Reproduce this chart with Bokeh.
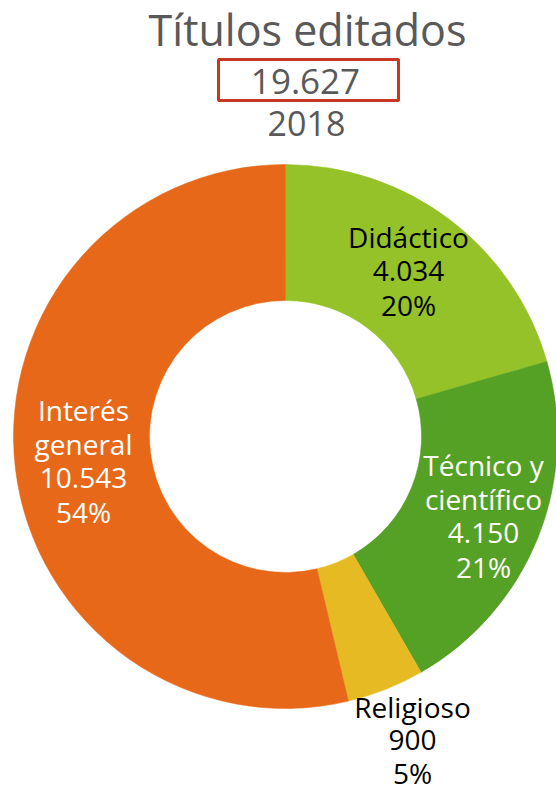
import math
from bokeh.plotting import figure
from bokeh.models import Range1d, BoxAnnotation, ColumnDataSource
from bokeh.core.properties import value
from bokeh.embed import file_html
from bokeh.resources import INLINE

# ---- data ----
title_text = "Títulos editados"
total_value = 19627
year_text = "2018"
categories = ["Didáctico", "Técnico y científico", "Religioso", "Interés general"]
label_names = [["Didáctico"], ["Técnico y", "científico"], ["Religioso"], ["Interés", "general"]]
values = [4034, 4150, 900, 10543]
percents = [20, 21, 5, 54]
colors = ["#94C228", "#55A125", "#E5BA22", "#E8681A"]
label_colors = ["#000000", "#FFFFFF", "#000000", "#FFFFFF"]

FONT = "Open Sans"
GREY = "#595959"

W, H = 556, 792
p = figure(width=W, height=H, x_range=Range1d(0, W), y_range=Range1d(0, H),
           x_axis_type=None, y_axis_type=None, toolbar_location=None,
           output_backend="svg", min_border=0)
p.outline_line_color = None
p.grid.visible = False
p.background_fill_color = "white"


def Y(yp):
    return H - yp


# donut
cx, cy = 285, Y(436)
r_out, r_in = 272, 136
total = sum(values)
starts, ends = [], []
cum = 0
for v in values:
    starts.append(math.pi / 2 - 2 * math.pi * cum / total)
    cum += v
    ends.append(math.pi / 2 - 2 * math.pi * cum / total)

src = ColumnDataSource(dict(x=[cx] * len(values), y=[cy] * len(values),
                            start=starts, end=ends, color=colors))
p.annular_wedge(x="x", y="y", inner_radius=r_in, outer_radius=r_out,
                start_angle="start", end_angle="end", direction="clock",
                fill_color="color", line_color="color", line_width=0.5, source=src)


def fmt(v):
    return f"{v:,}".replace(",", ".")


# label anchors (x center, first baseline in page px)
anchors = [(408, 236), (483, 464), (412, 706), (83, 409)]
spacing = [34, 34, 33, 34]
xs, ys, ts, cs = [], [], [], []
for i, (ax, ay) in enumerate(anchors):
    lines = label_names[i] + [fmt(values[i]), f"{percents[i]}%"]
    for j, t in enumerate(lines):
        xs.append(ax)
        ys.append(Y(ay + j * spacing[i]))
        ts.append(t)
        cs.append(label_colors[i])
p.text(x=xs, y=ys, text=ts, text_color=cs, text_font=value(FONT),
       text_font_size="28px", text_align="center", text_baseline="alphabetic")

# header
p.text(x=[307], y=[Y(29)], text=[title_text], text_color=GREY, text_font=value(FONT),
       text_font_size="43px", text_align="center", text_baseline="alphabetic")
p.text(x=[305], y=[Y(81)], text=[fmt(total_value)], text_color=GREY, text_font=value(FONT),
       text_font_size="35px", text_align="center", text_baseline="alphabetic")
p.text(x=[306], y=[Y(123)], text=[year_text], text_color=GREY, text_font=value(FONT),
       text_font_size="34px", text_align="center", text_baseline="alphabetic")
p.add_layout(BoxAnnotation(left=218, right=398, top=Y(59), bottom=Y(100),
                           fill_alpha=0, line_color="#C8371F", line_alpha=1.0,
                           line_width=3))

open("out.html", "w").write(file_html(p, INLINE))
